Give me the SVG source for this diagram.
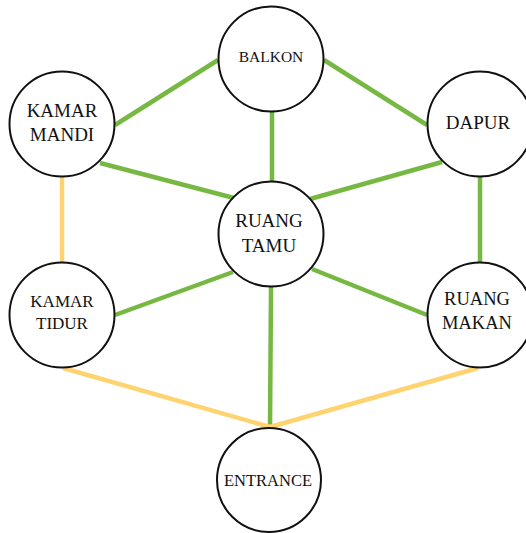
<svg xmlns="http://www.w3.org/2000/svg" width="526" height="533" viewBox="0 0 526 533">
<style>
.g{stroke:#77b843;stroke-width:4.5;fill:none}
.y{stroke:#ffd470;stroke-width:4.5;fill:none}
.n circle{fill:#fff;stroke:#111;stroke-width:2}
.n text{fill:#111;text-anchor:middle}
</style>
<rect width="526" height="533" fill="#fff"/>
<g id="connectors">
<line class="g" x1="218" y1="60" x2="115" y2="125"/>
<line class="g" x1="324" y1="60" x2="427" y2="125"/>
<line class="g" x1="272" y1="112" x2="272" y2="181"/>
<line class="g" x1="100" y1="163" x2="234" y2="198"/>
<line class="g" x1="442" y1="162" x2="310" y2="199"/>
<line class="g" x1="480" y1="177" x2="480" y2="263"/>
<line class="y" x1="62" y1="177" x2="62" y2="263"/>
<line class="g" x1="233" y1="272" x2="115" y2="315"/>
<line class="g" x1="312" y1="269" x2="427" y2="315"/>
<line class="g" x1="271" y1="287" x2="270" y2="428"/>
<line class="y" x1="63" y1="368" x2="270" y2="427"/>
<line class="y" x1="478" y1="368" x2="270" y2="427"/>
</g>
<g font-family="'Liberation Serif', 'Times New Roman', 'DejaVu Serif', serif">
<g id="balkon" class="n"><circle cx="271" cy="59" r="52.5"/><text x="271" y="62" font-size="15.5">BALKON</text></g>
<g id="kamar-mandi" class="n"><circle cx="62" cy="124" r="52.5"/><text x="62" y="117" font-size="19">KAMAR</text><text x="62" y="141" font-size="19">MANDI</text></g>
<g id="dapur" class="n"><circle cx="480" cy="124" r="52.5"/><text x="478" y="129" font-size="19">DAPUR</text></g>
<g id="ruang-tamu" class="n"><circle cx="271" cy="234" r="52.5"/><text x="269" y="227" font-size="19">RUANG</text><text x="269" y="252" font-size="19">TAMU</text></g>
<g id="kamar-tidur" class="n"><circle cx="62" cy="315" r="52.5"/><text x="62" y="307" font-size="17">KAMAR</text><text x="62" y="329" font-size="17">TIDUR</text></g>
<g id="ruang-makan" class="n"><circle cx="480" cy="315" r="52.5"/><text x="477" y="305" font-size="18.5">RUANG</text><text x="477" y="329" font-size="18.5">MAKAN</text></g>
<g id="entrance" class="n"><circle cx="269" cy="480" r="52"/><text x="268" y="486" font-size="16.5">ENTRANCE</text></g>
</g>
</svg>
